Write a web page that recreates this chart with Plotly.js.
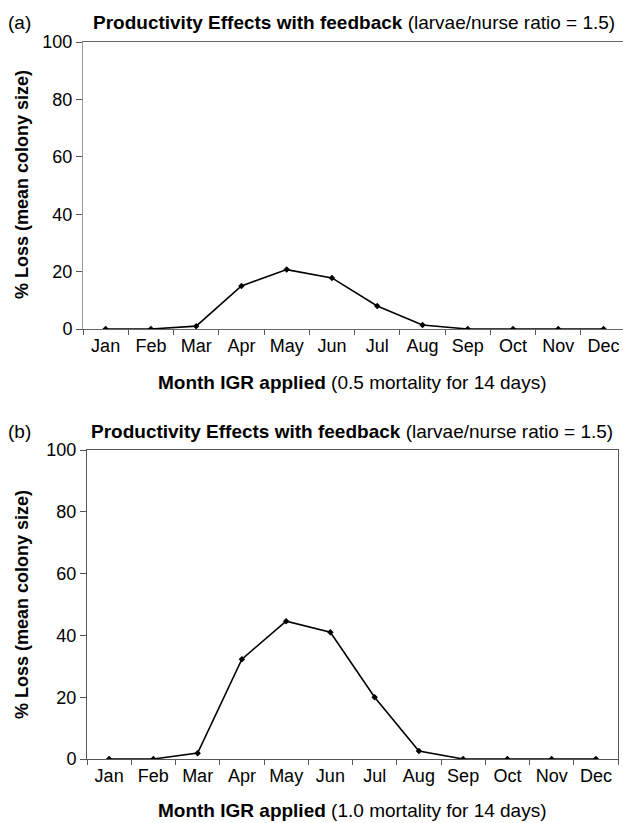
<!DOCTYPE html>
<html>
<head>
<meta charset="utf-8">
<script src="https://cdn.plot.ly/plotly-3.0.1.min.js"></script>
<style>html,body{margin:0;padding:0;background:#fff;overflow:hidden;}</style>
</head>
<body>
<div id="chart" style="width:623px;height:823px;"></div>
<script>
const months = ["Jan","Feb","Mar","Apr","May","Jun","Jul","Aug","Sep","Oct","Nov","Dec"];
const lossA = [0, 0, 1, 15, 20.7, 17.8, 8, 1.4, 0, 0, 0, 0];
const lossB = [0, 0, 1.9, 32.3, 44.6, 41, 20, 2.6, 0, 0, 0, 0];
const yTicks = [0, 20, 40, 60, 80, 100];
const titleMain = "Productivity Effects with feedback";
const titleSub = "(larvae/nurse ratio = 1.5)";
const xTitleA = ["Month IGR applied", "(0.5 mortality for 14 days)"];
const xTitleB = ["Month IGR applied", "(1.0 mortality for 14 days)"];
const yTitle = "% Loss (mean colony size)";

const FONT = "Liberation Sans, Arial, Helvetica, sans-serif";
const W = 623, H = 823;

function trace(y, xa, ya) {
  return {
    x: months, y: y, xaxis: xa, yaxis: ya, type: "scatter", mode: "lines+markers",
    line: {color: "#000", width: 1.6},
    marker: {color: "#000", size: 5, symbol: "diamond"},
    hoverinfo: "skip", showlegend: false
  };
}

function xax(domain, range, lineColor, mirror) {
  return {
    domain: domain, type: "category", range: range,
    tickson: "boundaries", ticks: "outside", ticklen: 5, tickcolor: "#555",
    showline: true, linecolor: lineColor, linewidth: 1, mirror: mirror,
    showgrid: false, zeroline: false, fixedrange: true,
    tickfont: {family: FONT, size: 18, color: "#000"}
  };
}
function yax(domain, lineColor, mirror, anchor) {
  return {
    domain: domain, range: [0, 100], tickvals: yTicks, anchor: anchor,
    ticks: "outside", ticklen: 6, tickcolor: "#555",
    showline: true, linecolor: lineColor, linewidth: 1, mirror: mirror,
    showgrid: false, zeroline: false, fixedrange: true,
    tickfont: {family: FONT, size: 18, color: "#000"}
  };
}

const px = v => v / W;
const py = v => (H - v) / H;

const data = [trace(lossA, "x", "y"), trace(lossB, "x2", "y2")];

const ann = (text, x, y, opts) => Object.assign({
  text: text, xref: "paper", yref: "paper", x: px(x), y: py(y),
  xanchor: "center", yanchor: "middle", showarrow: false,
  font: {family: FONT, size: 19, color: "#000"}
}, opts || {});

const layout = {
  width: W, height: H,
  margin: {l: 0, r: 0, t: 0, b: 0},
  paper_bgcolor: "#fff", plot_bgcolor: "#fff",
  xaxis: Object.assign(xax([px(83), 1], [-0.5, 11.43], "#666", true), {anchor: "y"}),
  yaxis: yax([py(329), py(42)], "#999", false, "x"),
  xaxis2: Object.assign(xax([px(87), px(618)], [-0.5, 11.5], "#555", true), {anchor: "y2"}),
  yaxis2: yax([py(759), py(450)], "#555", true, "x2"),
  annotations: [
    ann("(a)", 20, 22, {}),
    ann("<b>" + titleMain + "</b> " + titleSub, 354, 22, {}),
    ann("<b>" + xTitleA[0] + "</b> " + xTitleA[1], 352, 382, {}),
    ann("<b>" + yTitle + "</b>", 22, 185, {textangle: -90, font: {family: FONT, size: 18, color: "#000"}}),
    ann("(b)", 20, 431, {}),
    ann("<b>" + titleMain + "</b> " + titleSub, 352, 431, {}),
    ann("<b>" + xTitleB[0] + "</b> " + xTitleB[1], 352, 810, {}),
    ann("<b>" + yTitle + "</b>", 22, 605, {textangle: -90, font: {family: FONT, size: 18, color: "#000"}})
  ]
};

Plotly.newPlot("chart", data, layout, {staticPlot: true, displayModeBar: false});
</script>
</body>
</html>
